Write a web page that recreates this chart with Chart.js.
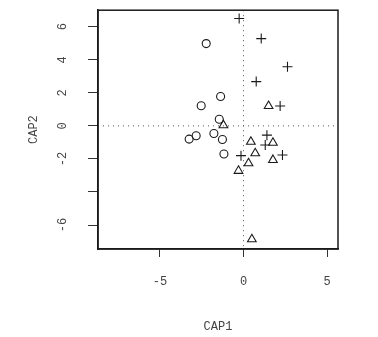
<!DOCTYPE html>
<html>
<head>
<meta charset="utf-8">
<script src="https://cdn.jsdelivr.net/npm/chart.js@4"></script>
<style>
  html, body { margin: 0; padding: 0; background: #fff; }
  #wrap { width: 378px; height: 337px; }
</style>
</head>
<body>
<div id="wrap"><canvas id="myChart" width="378" height="337"></canvas></div>
<script>
// site groups on the first two CAP axes
const groupCircle = [
	{x: -2.23, y: 4.98}, {x: -1.37, y: 1.78}, {x: -2.53, y: 1.22},
	{x: -1.45, y: 0.40}, {x: -2.83, y: -0.60}, {x: -3.25, y: -0.80},
	{x: -1.77, y: -0.46}, {x: -1.26, y: -0.82}, {x: -1.17, y: -1.70}
];
const groupTriangle = [
	{x: 1.50, y: 1.20}, {x: -1.20, y: 0.04}, {x: 0.44, y: -0.96},
	{x: 1.76, y: -1.02}, {x: 0.70, y: -1.66}, {x: 0.30, y: -2.26},
	{x: 1.76, y: -2.06}, {x: -0.30, y: -2.72}, {x: 0.50, y: -6.86}
];
const groupPlus = [
	{x: -0.26, y: 6.50}, {x: 1.06, y: 5.28}, {x: 2.63, y: 3.58},
	{x: 0.76, y: 2.68}, {x: 2.19, y: 1.20}, {x: 1.40, y: -0.56},
	{x: 1.30, y: -1.16}, {x: -0.15, y: -1.80}, {x: 2.33, y: -1.76}
];
const xTicks = [-5, 0, 5];
const yTicks = [-6, -4, -2, 0, 2, 4, 6];
const yTickLabels = ['-6', '', '-2', '0', '2', '4', '6'];

const ink = '#1a1a1a';
const tickFont = { family: "'Liberation Mono', monospace", size: 12 };

// dotted lines through the origin and the closed box
const frame = {
	id: 'frame',
	beforeDatasetsDraw(chart) {
		const {ctx, chartArea, scales} = chart;
		const px = scales.x.getPixelForValue(0);
		const py = scales.y.getPixelForValue(0);
		ctx.save();
		ctx.strokeStyle = '#555';
		ctx.lineWidth = 1;
		ctx.setLineDash([1, 4]);
		ctx.beginPath();
		ctx.moveTo(px, chartArea.top);
		ctx.lineTo(px, chartArea.bottom);
		ctx.moveTo(chartArea.left, py);
		ctx.lineTo(chartArea.right, py);
		ctx.stroke();
		ctx.setLineDash([]);
		ctx.strokeStyle = ink;
		ctx.lineWidth = 1.5;
		ctx.strokeRect(chartArea.left, chartArea.top,
			chartArea.right - chartArea.left, chartArea.bottom - chartArea.top);
		ctx.restore();
	}
};

// y tick labels are written sideways, like R does
const sideLabels = {
	id: 'sideLabels',
	afterDraw(chart) {
		const {ctx, scales} = chart;
		ctx.save();
		ctx.fillStyle = '#444';
		ctx.font = '12px ' + tickFont.family;
		ctx.textAlign = 'center';
		ctx.textBaseline = 'middle';
		yTicks.forEach((v, i) => {
			if (!yTickLabels[i]) return;
			ctx.save();
			ctx.translate(63, scales.y.getPixelForValue(v));
			ctx.rotate(-Math.PI / 2);
			ctx.fillText(yTickLabels[i], 0, 0);
			ctx.restore();
		});
		ctx.restore();
	}
};

const ctx = document.getElementById('myChart');
new Chart(ctx, {
	type: 'scatter',
	data: {
		datasets: [{
			label: 'circle',
			data: groupCircle,
			pointStyle: 'circle',
			pointRadius: 4,
			borderColor: ink,
			backgroundColor: 'transparent',
			borderWidth: 1.1,
		},
		{
			label: 'triangle',
			data: groupTriangle,
			pointStyle: 'triangle',
			pointRadius: 5,
			borderColor: ink,
			backgroundColor: 'transparent',
			borderWidth: 1.1,
		},
		{
			label: 'plus',
			data: groupPlus,
			pointStyle: 'cross',
			pointRadius: 5,
			borderColor: ink,
			backgroundColor: 'transparent',
			borderWidth: 1.1,
		}]
	},
	options: {
		responsive: false,
		animation: false,
		layout: {
			padding: { top: 7, right: 40, left: 0, bottom: 0 }
		},
		plugins: {
			legend: { display: false },
			tooltip: { enabled: false },
		},
		scales: {
			x: {
				min: -8.7,
				max: 5.65,
				afterBuildTicks: (s) => { s.ticks = xTicks.map(v => ({value: v})); },
				afterFit: (s) => { s.height = 88; },
				border: { color: ink, width: 1.5 },
				grid: {
					drawOnChartArea: false,
					drawTicks: true,
					tickLength: 8,
					tickColor: '#333',
				},
				ticks: {
					color: '#444',
					padding: 18,
					maxRotation: 0,
					font: tickFont,
					callback: (v) => String(v),
				},
				title: {
					display: true,
					text: 'CAP1',
					color: '#444',
					padding: { top: 0, bottom: 3 },
					font: tickFont,
				}
			},
			y: {
				min: -7.45,
				max: 7.0,
				afterBuildTicks: (s) => { s.ticks = yTicks.map(v => ({value: v})); },
				afterFit: (s) => { s.width = 98; },
				border: { color: ink, width: 1.5 },
				grid: {
					drawOnChartArea: false,
					drawTicks: true,
					tickLength: 10,
					tickColor: '#333',
				},
				ticks: {
					color: 'transparent',
					font: tickFont,
				},
				title: {
					display: true,
					text: 'CAP2',
					color: '#444',
					padding: { top: 27, bottom: 0 },
					font: tickFont,
				}
			}
		}
	},
	plugins: [frame, sideLabels]
});
</script>
</body>
</html>
